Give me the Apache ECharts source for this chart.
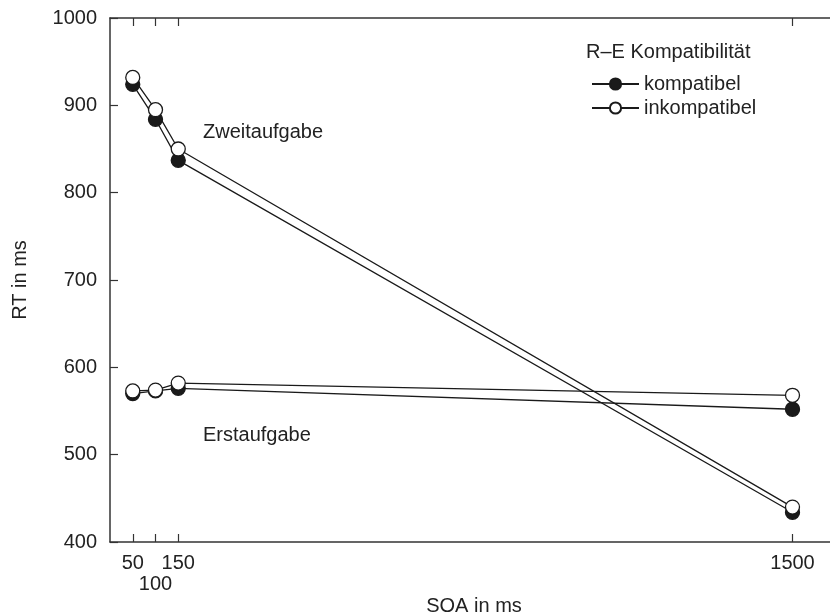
<!DOCTYPE html>
<html>
<head>
  <meta charset="UTF-8">
  <title>RT nach SOA</title>
  <style>
    body { margin: 0; background: #fff; }
    #main { width: 830px; height: 616px; }
  </style>
</head>
<body>
  <div id="main"></div>
  <script src="https://cdn.jsdelivr.net/npm/echarts@6/dist/echarts.min.js"></script>
  <script>
    const soa = [50, 100, 150, 1500];
    const xTicks = [50, 100, 150, 1500];
    const xLabelsUpper = [50, 150, 1500];
    const xLabelsLower = [100];

    // Zweitaufgabe (second task)
    const zweitKompatibel = [924, 884, 837, 434];
    const zweitInkompatibel = [932, 895, 850, 440];
    // Erstaufgabe (first task)
    const erstKompatibel = [570, 573, 576, 552];
    const erstInkompatibel = [573, 574, 582, 568];

    const ink = '#1a1a1a';
    const axisInk = '#333';
    const font = 'Liberation Sans, Arial, sans-serif';

    const pairs = vals => soa.map((x, i) => [x, vals[i]]);
    const plain = v => String(v);

    function makeSeries(name, vals, filled) {
      return {
        name: name,
        type: 'line',
        data: pairs(vals),
        symbol: 'circle',
        symbolSize: 14,
        lineStyle: { color: ink, width: 1.3 },
        itemStyle: {
          color: filled ? ink : '#fff',
          borderColor: ink,
          borderWidth: 1.3
        },
        emphasis: { disabled: true },
        z: filled ? 2 : 3
      };
    }

    const chart = echarts.init(document.getElementById('main'));

    chart.setOption({
      animation: false,
      textStyle: { fontFamily: font },
      grid: { left: 110, right: -8, top: 18, bottom: 74, outerBoundsMode: 'none' },
      legend: {
        data: ['kompatibel', 'inkompatibel'],
        orient: 'vertical',
        left: 586,
        top: 69,
        itemWidth: 47,
        itemHeight: 14,
        itemGap: 4,
        selectedMode: false,
        textStyle: { fontSize: 20, color: '#222', fontFamily: font }
      },
      graphic: [
        { type: 'text', left: 586, top: 42, style: { text: 'R–E Kompatibilität', fontSize: 20, fill: '#222', fontFamily: font } },
        { type: 'text', left: 203, top: 122, style: { text: 'Zweitaufgabe', fontSize: 20, fill: '#222', fontFamily: font } },
        { type: 'text', left: 203, top: 425, style: { text: 'Erstaufgabe', fontSize: 20, fill: '#222', fontFamily: font } }
      ],
      xAxis: [
        {
          type: 'value',
          position: 'bottom',
          min: 0,
          max: 1600,
          name: 'SOA in ms',
          nameLocation: 'middle',
          nameGap: 54,
          nameMoveOverlap: false,
          nameTextStyle: { fontSize: 20, color: '#222' },
          axisLine: { lineStyle: { color: axisInk, width: 1.5 } },
          axisTick: { inside: true, length: 8, customValues: xTicks, lineStyle: { color: axisInk, width: 1.2 } },
          axisLabel: { customValues: xLabelsUpper, fontSize: 20, color: '#222', margin: 11, formatter: plain },
          splitLine: { show: false }
        },
        {
          type: 'value',
          position: 'top',
          min: 0,
          max: 1600,
          axisLine: { lineStyle: { color: axisInk, width: 1.5 } },
          axisTick: { inside: true, length: 8, customValues: xTicks, lineStyle: { color: axisInk, width: 1.2 } },
          axisLabel: { show: false },
          splitLine: { show: false }
        },
        {
          // second row of bottom labels (only "100")
          type: 'value',
          position: 'bottom',
          min: 0,
          max: 1600,
          axisLine: { show: false },
          axisTick: { show: false },
          axisLabel: { customValues: xLabelsLower, fontSize: 20, color: '#222', margin: 32, formatter: plain },
          splitLine: { show: false }
        }
      ],
      yAxis: {
        type: 'value',
        min: 400,
        max: 1000,
        interval: 100,
        name: 'RT in ms',
        nameLocation: 'middle',
        nameGap: 80,
        nameMoveOverlap: false,
        nameTextStyle: { fontSize: 20, color: '#222' },
        axisLine: { show: true, lineStyle: { color: axisInk, width: 1.5 } },
        axisTick: { show: true, inside: true, length: 8, lineStyle: { color: axisInk, width: 1.2 } },
        axisLabel: { fontSize: 20, color: '#222', margin: 13, formatter: plain },
        splitLine: { show: false }
      },
      series: [
        makeSeries('kompatibel', zweitKompatibel, true),
        makeSeries('inkompatibel', zweitInkompatibel, false),
        makeSeries('kompatibel', erstKompatibel, true),
        makeSeries('inkompatibel', erstInkompatibel, false)
      ]
    });
  </script>
</body>
</html>
